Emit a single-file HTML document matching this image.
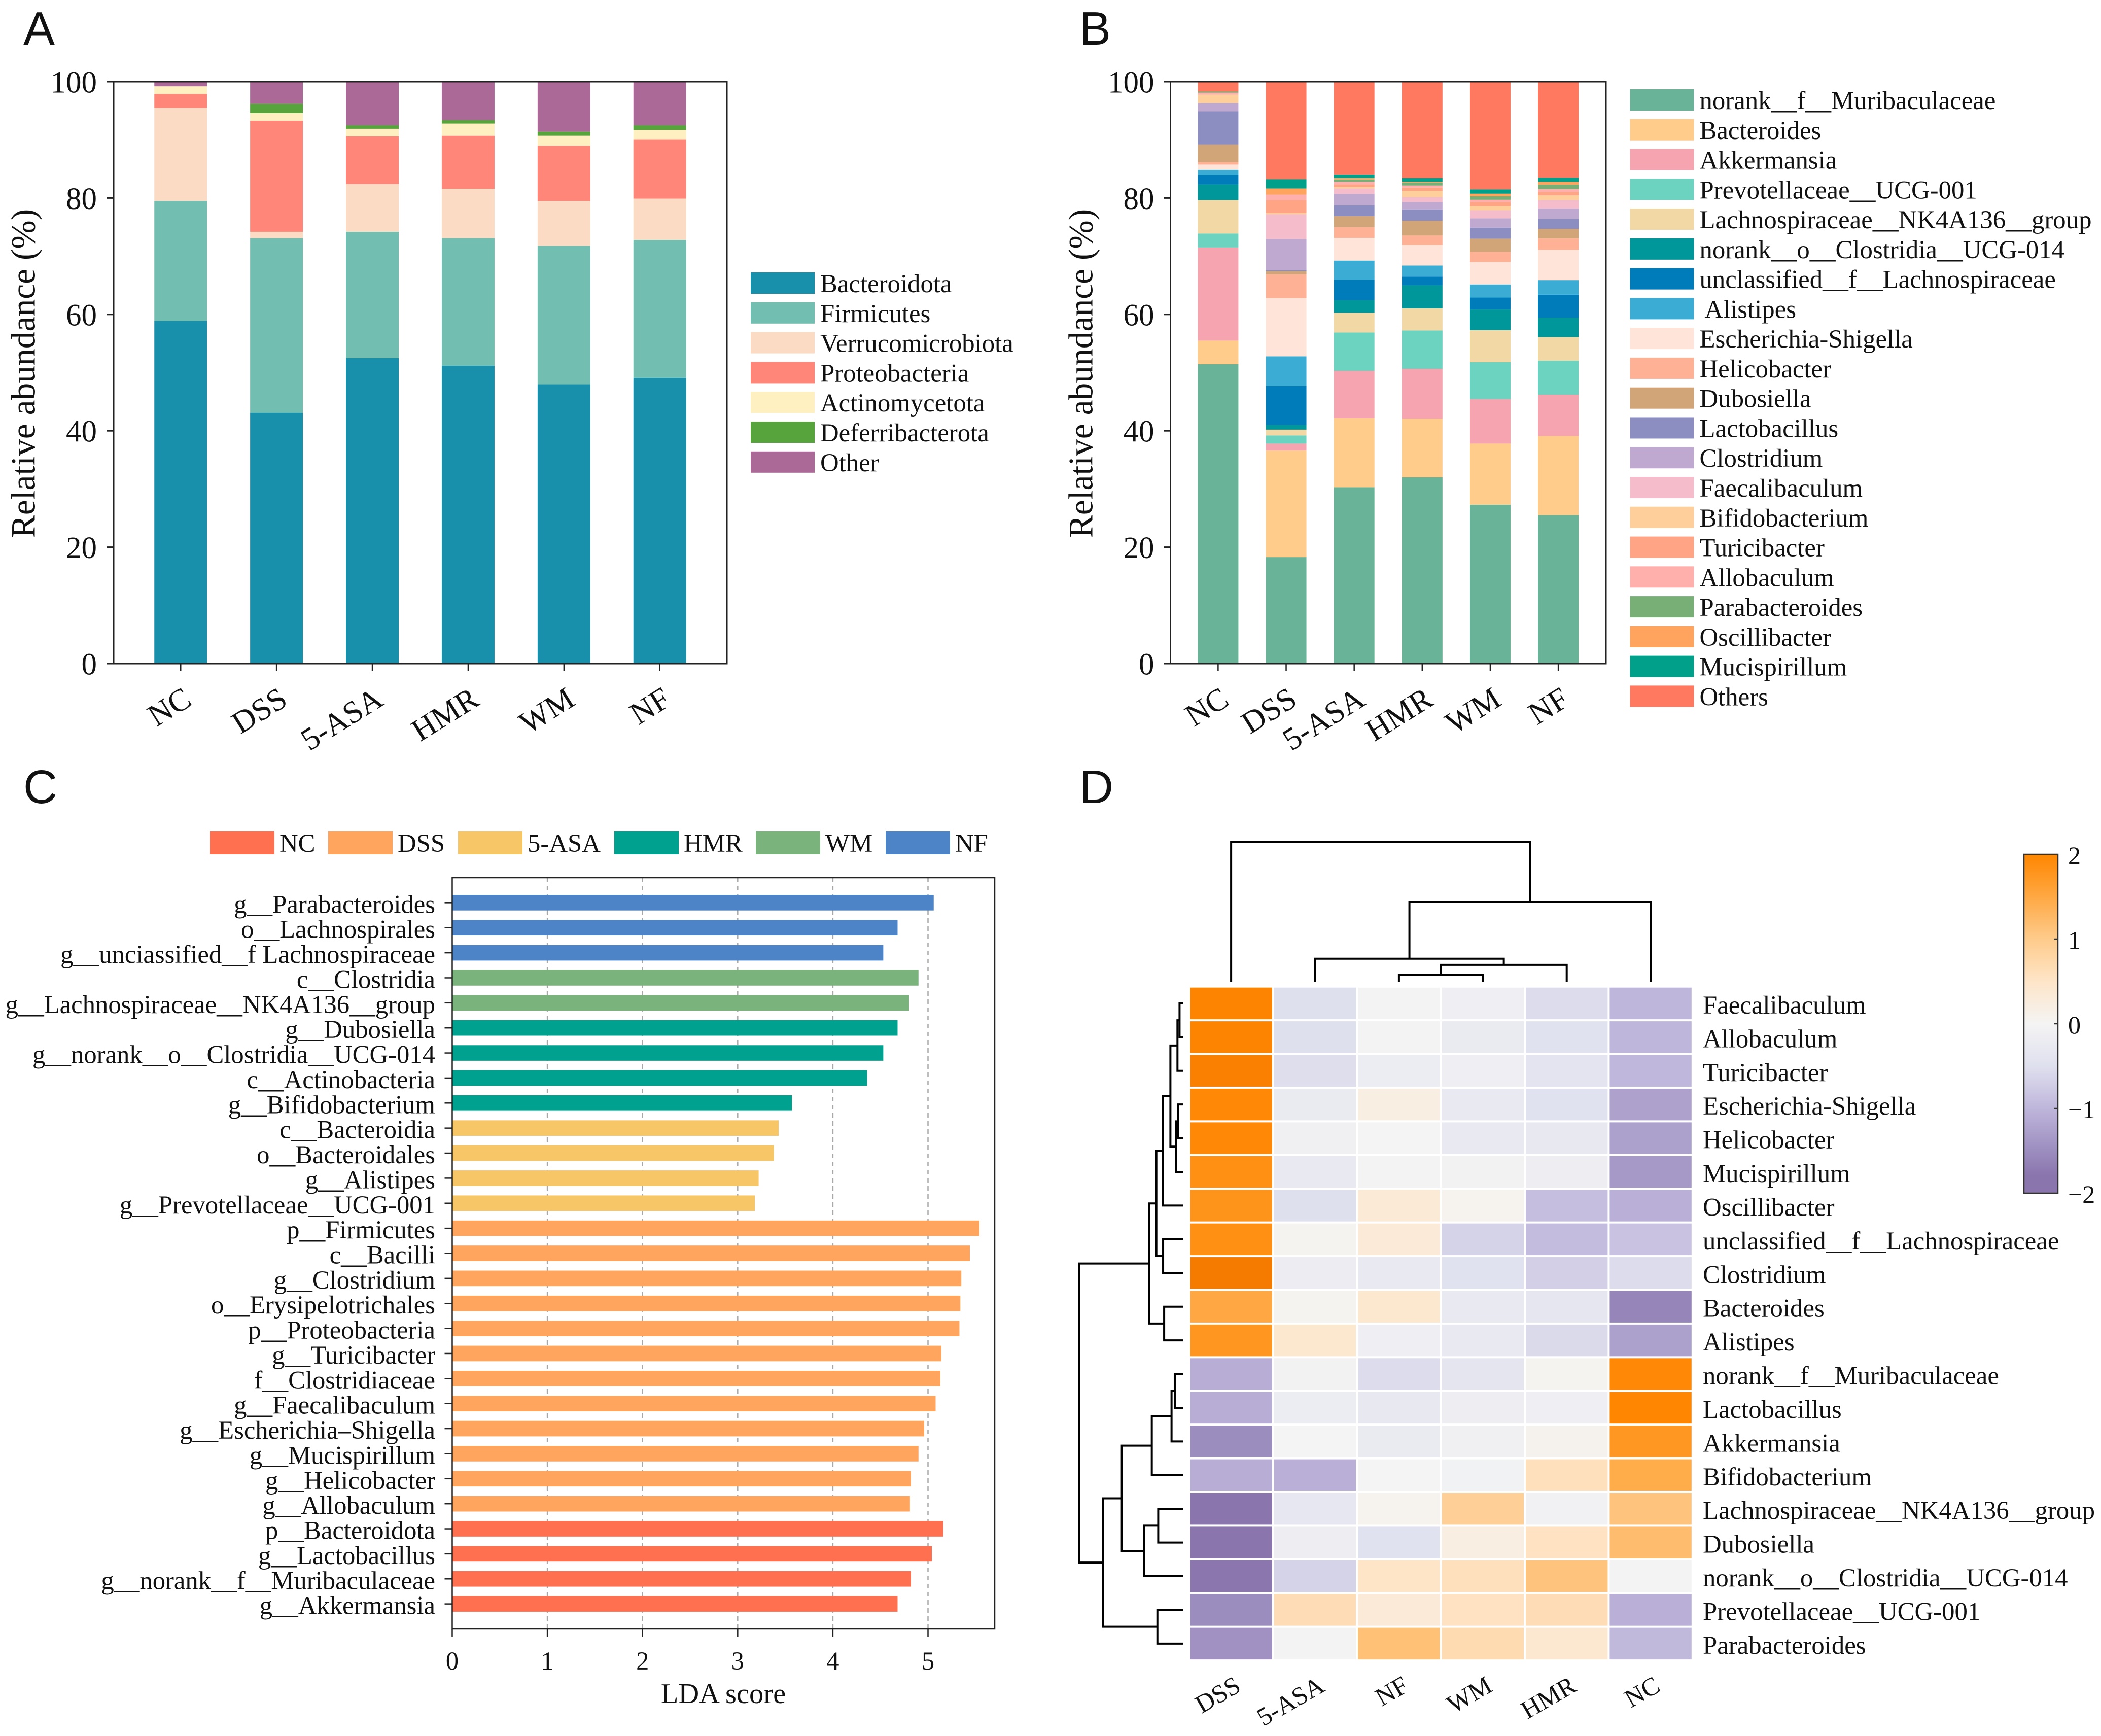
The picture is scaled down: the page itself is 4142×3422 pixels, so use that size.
<!DOCTYPE html>
<html lang="en">
<head>
<meta charset="utf-8">
<title>Gut microbiota composition, LDA and heatmap panels</title>
<style>
html,body{margin:0;padding:0;background:#fff;}
svg{display:block;}
text{font-family:"Liberation Serif","Times New Roman",serif;fill:#111;white-space:pre;}
.letter{font-family:"Liberation Sans",Arial,sans-serif;font-size:93px;fill:#111;}
</style>
</head>
<body>
<svg id="figure" xmlns="http://www.w3.org/2000/svg" width="4142" height="3422" viewBox="0 0 4142 3422">
  <rect x="0" y="0" width="4142" height="3422" fill="#ffffff"/>
  <defs>
    <linearGradient id="cbar-gradient" x1="0" y1="0" x2="0" y2="1"></linearGradient>
  </defs>
  <g id="panel-a">
    <text class="letter" x="46" y="88">A</text>
  </g>
  <g id="panel-b">
    <text class="letter" x="2128" y="88">B</text>
  </g>
  <g id="panel-c">
    <text class="letter" x="46" y="1583">C</text>
  </g>
  <g id="panel-d">
    <text class="letter" x="2128" y="1583">D</text>
  </g>
</svg>
<script>
/* ---------- shared categories ---------- */
const groups = ["NC", "DSS", "5-ASA", "HMR", "WM", "NF"];
const percentTicks = [0, 20, 40, 60, 80, 100];

/* ---------- panel A data: one array per phylum, in group order ---------- */
const phylumNames = ["Bacteroidota", "Firmicutes", "Verrucomicrobiota", "Proteobacteria", "Actinomycetota", "Deferribacterota", "Other"];
const bacteroidota = [58.9, 43.1, 52.5, 51.2, 48.0, 49.1];
const firmicutes = [20.6, 30.0, 21.7, 21.9, 23.8, 23.7];
const verrucomicrobiota = [16.0, 1.1, 8.2, 8.5, 7.7, 7.1];
const proteobacteria = [2.4, 19.1, 8.2, 9.1, 9.5, 10.2];
const actinomycetota = [1.3, 1.3, 1.3, 2.1, 1.7, 1.6];
const deferribacterota = [0, 1.6, 0.6, 0.6, 0.7, 0.8];
const otherPhyla = [0.8, 3.8, 7.5, 6.6, 8.6, 7.5];
const phylumSeries = [bacteroidota, firmicutes, verrucomicrobiota, proteobacteria, actinomycetota, deferribacterota, otherPhyla];
const phylumColors = ["#188FAB", "#72BFB1", "#FBDBC4", "#FF8679", "#FEF0C1", "#57A33C", "#AB6997"];

/* ---------- panel B data: one array per genus, in group order ---------- */
const genusNames = ["norank__f__Muribaculaceae", "Bacteroides", "Akkermansia", "Prevotellaceae__UCG-001", "Lachnospiraceae__NK4A136__group", "norank__o__Clostridia__UCG-014", "unclassified__f__Lachnospiraceae", " Alistipes", "Escherichia-Shigella", "Helicobacter", "Dubosiella", "Lactobacillus", "Clostridium", "Faecalibaculum", "Bifidobacterium", "Turicibacter", "Allobaculum", "Parabacteroides", "Oscillibacter", "Mucispirillum", "Others"];
const muribaculaceae = [51.45, 18.3, 30.3, 32.0, 27.3, 25.5];
const bacteroides = [4.05, 18.3, 11.9, 10.1, 10.5, 13.6];
const akkermansia = [16.0, 1.2, 8.1, 8.55, 7.65, 7.1];
const prevotellaceae = [2.4, 1.4, 6.6, 6.6, 6.35, 5.85];
const lachnoNK = [5.75, 1.0, 3.4, 3.8, 5.5, 4.05];
const norankClostridia = [2.7, 0.8, 2.15, 3.95, 3.55, 3.35];
const unclassifiedLachno = [1.65, 6.7, 3.5, 1.5, 2.05, 3.95];
const alistipes = [0.85, 5.1, 3.3, 1.9, 2.25, 2.5];
const escherichia = [0.9, 10.0, 3.9, 3.55, 3.85, 5.2];
const helicobacter = [0.45, 4.1, 1.85, 1.6, 1.75, 1.95];
const dubosiella = [3.0, 0.55, 1.9, 2.55, 2.25, 1.65];
const lactobacillus = [5.7, 0.15, 1.85, 1.95, 1.9, 1.7];
const clostridium = [1.4, 5.35, 1.95, 1.25, 1.6, 1.8];
const faecalibaculum = [0, 4.25, 0.95, 0.85, 1.4, 1.45];
const bifidobacterium = [1.45, 0.2, 0.25, 1.1, 0.7, 0.8];
const turicibacter = [0, 2.25, 0.45, 0.55, 0.7, 0.6];
const allobaculum = [0.35, 0.95, 0.45, 0.35, 0.4, 0.5];
const parabacteroides = [0.2, 0, 0.4, 0.5, 0.6, 0.75];
const oscillibacter = [0, 1.05, 0.25, 0.15, 0.45, 0.5];
const mucispirillum = [0, 1.6, 0.6, 0.65, 0.75, 0.7];
const otherGenera = [1.7, 16.75, 15.95, 16.55, 18.5, 16.5];
const genusSeries = [muribaculaceae, bacteroides, akkermansia, prevotellaceae, lachnoNK, norankClostridia, unclassifiedLachno, alistipes, escherichia, helicobacter, dubosiella, lactobacillus, clostridium, faecalibaculum, bifidobacterium, turicibacter, allobaculum, parabacteroides, oscillibacter, mucispirillum, otherGenera];
const genusColors = ["#69B398", "#FFCC8C", "#F6A5B0", "#6CD3C1", "#F1D8A4", "#00979B", "#007CBB", "#3BADD4", "#FFE5D9", "#FFB195", "#D2A579", "#8C8EC2", "#BFA9D1", "#F5BCCB", "#FECF9B", "#FFA585", "#FFB0AD", "#77AF77", "#FFA45F", "#00A08A", "#FF7961"];

/* ---------- panel C data ---------- */
const ldaLabels = ["g__Parabacteroides", "o__Lachnospirales", "g__unciassified__f Lachnospiraceae", "c__Clostridia", "g__Lachnospiraceae__NK4A136__group", "g__Dubosiella", "g__norank__o__Clostridia__UCG-014", "c__Actinobacteria", "g__Bifidobacterium", "c__Bacteroidia", "o__Bacteroidales", "g__Alistipes", "g__Prevotellaceae__UCG-001", "p__Firmicutes", "c__Bacilli", "g__Clostridium", "o__Erysipelotrichales", "p__Proteobacteria", "g__Turicibacter", "f__Clostridiaceae", "g__Faecalibaculum", "g__Escherichia–Shigella", "g__Mucispirillum", "g__Helicobacter", "g__Allobaculum", "p__Bacteroidota", "g__Lactobacillus", "g__norank__f__Muribaculaceae", "g__Akkermansia"];
const ldaScores = [5.06, 4.68, 4.53, 4.90, 4.80, 4.68, 4.53, 4.36, 3.57, 3.43, 3.38, 3.22, 3.18, 5.54, 5.44, 5.35, 5.34, 5.33, 5.14, 5.13, 5.08, 4.96, 4.90, 4.82, 4.81, 5.16, 5.04, 4.82, 4.68];
const ldaGroups = ["NF", "NF", "NF", "WM", "WM", "HMR", "HMR", "HMR", "HMR", "5-ASA", "5-ASA", "5-ASA", "5-ASA", "DSS", "DSS", "DSS", "DSS", "DSS", "DSS", "DSS", "DSS", "DSS", "DSS", "DSS", "DSS", "NC", "NC", "NC", "NC"];
const ldaTicks = [0, 1, 2, 3, 4, 5];
const ldaGroupColors = {"NC": "#FF7050", "DSS": "#FFA55E", "5-ASA": "#F6C667", "HMR": "#00A18E", "WM": "#7AB37B", "NF": "#4C84C7"};

/* ---------- panel D data: one array per clustered column, top row first ---------- */
const heatRows = ["Faecalibaculum", "Allobaculum", "Turicibacter", "Escherichia-Shigella", "Helicobacter", "Mucispirillum", "Oscillibacter", "unclassified__f__Lachnospiraceae", "Clostridium", "Bacteroides", "Alistipes", "norank__f__Muribaculaceae", "Lactobacillus", "Akkermansia", "Bifidobacterium", "Lachnospiraceae__NK4A136__group", "Dubosiella", "norank__o__Clostridia__UCG-014", "Prevotellaceae__UCG-001", "Parabacteroides"];
const heatCols = ["DSS", "5-ASA", "NF", "WM", "HMR", "NC"];
const heatDSS = [2.03, 2.03, 2.08, 1.95, 1.95, 1.85, 1.8, 1.85, 2.15, 1.5, 1.77, -1.1, -1.1, -1.5, -1.1, -1.85, -1.85, -1.78, -1.5, -1.45];
const heat5ASA = [-0.5, -0.5, -0.52, -0.25, -0.1, -0.28, -0.5, 0.05, -0.2, 0.05, 0.42, -0.05, -0.18, -0.01, -1.07, -0.33, -0.15, -0.65, 0.65, -0.03];
const heatNF = [-0.02, -0.02, -0.18, 0.2, 0, -0.02, 0.35, 0.33, -0.28, 0.42, -0.12, -0.55, -0.3, -0.25, -0.01, 0.08, -0.45, 0.5, 0.33, 1.15];
const heatWM = [-0.12, -0.25, -0.12, -0.28, -0.28, -0.05, 0.08, -0.65, -0.45, -0.28, -0.28, -0.38, -0.15, -0.1, -0.06, 0.9, 0.2, 0.6, 0.55, 0.7];
const heatHMR = [-0.55, -0.45, -0.4, -0.45, -0.3, -0.15, -0.9, -0.93, -0.7, -0.35, -0.57, 0.05, -0.12, 0.07, 0.6, -0.07, 0.55, 1.1, 0.65, 0.4];
const heatNC = [-1.0, -1.0, -0.98, -1.25, -1.27, -1.35, -1.07, -0.85, -0.55, -1.6, -1.27, 1.95, 2.0, 1.75, 1.45, 1.1, 1.2, -0.03, -1.07, -0.97];
const heatColumns = [heatDSS, heat5ASA, heatNF, heatWM, heatHMR, heatNC];
const colorbarTicks = [2, 1, 0, -1, -2];
const colorStopValues = [-2, -1.8, -1.5, -1, -0.5, 0, 0.5, 1, 1.5, 2, 2.15];
const colorStopColors = ["#8A75AD", "#8A75AD", "#9C8DBF", "#BFB6DB", "#DFE0EE", "#F4F4F4", "#FEE5C8", "#FECB8B", "#FFA843", "#FF8600", "#F47B00"];

/* dendrogram merges: [childA, childB, height]; node ids above the leaf count are earlier merges */
const columnMerges = [[2, 3, 4.9], [6, 4, 12], [1, 7, 16.4], [8, 5, 56.9], [0, 9, 100]];
const rowMerges = [[0, 1, 3.7], [20, 2, 5.7], [3, 4, 4.9], [22, 5, 7.3], [21, 23, 12.5], [24, 6, 20], [7, 8, 19.5], [25, 26, 26], [9, 10, 18.5], [27, 28, 33], [11, 12, 8.3], [30, 13, 11.4], [31, 14, 30.4], [15, 16, 24.2], [33, 17, 38], [32, 34, 59.2], [18, 19, 25], [35, 36, 77.2], [29, 37, 100]];

/* ---------- helpers ---------- */
const NS = "http://www.w3.org/2000/svg";
function make(parent, tag, attrs, text) {
  const node = document.createElementNS(NS, tag);
  for (const key in attrs) node.setAttribute(key, attrs[key]);
  if (text !== undefined) node.textContent = text;
  parent.appendChild(node);
  return node;
}
function slug(s) {
  return String(s).trim().toLowerCase().replace(/[^a-z0-9]+/g, "-").replace(/^-|-$/g, "");
}
const AXIS = "#222222";

/* ---------- stacked bar panels (A, B) ---------- */
function stackedPanel(root, opt) {
  const yPos = v => opt.bottom - (v / 100) * (opt.bottom - opt.top);
  const step = (opt.right - opt.left) / (groups.length - 1 + 2 * opt.pad);
  const xPos = i => opt.left + (opt.pad + i) * step;
  const base = groups.map(() => 0);
  opt.series.forEach((values, s) => {
    values.forEach((v, g) => {
      if (v <= 0) return;
      const y1 = yPos(base[g]);
      const y2 = yPos(base[g] + v);
      const el = make(root, "rect", {x: xPos(g) - opt.barW / 2, y: y2, width: opt.barW, height: y1 - y2, fill: opt.colors[s]});
      
      
      base[g] += v;
    });
  });
  const frame = make(root, "rect", {x: opt.left, y: opt.top, width: opt.right - opt.left, height: opt.bottom - opt.top, fill: "none", stroke: AXIS, "stroke-width": 3});
  
  
  percentTicks.forEach(t => {
    const tick = make(root, "line", {x1: opt.left - 13, x2: opt.left, y1: yPos(t), y2: yPos(t), stroke: AXIS, "stroke-width": 3});
    
    
    const lab = make(root, "text", {x: opt.left - opt.tickGap, y: yPos(t) + 2, "text-anchor": "end", "dominant-baseline": "central", "font-size": 61}, String(t));
    
    
  });
  groups.forEach((g, i) => {
    const tick = make(root, "line", {x1: xPos(i), x2: xPos(i), y1: opt.bottom, y2: opt.bottom + 14, stroke: AXIS, "stroke-width": 2.5});
    
    
    const ax = xPos(i) + 25;
    const ay = 1388;
    const lab = make(root, "text", {x: ax, y: ay, "text-anchor": "end", "font-size": 62, transform: "rotate(-32 " + ax + " " + ay + ")"}, g);
    
    
  });
  const ylx = opt.ylabelX;
  const yl = make(root, "text", {x: ylx, y: 736, "text-anchor": "middle", "dominant-baseline": "central", "font-size": 67.5, transform: "rotate(-90 " + ylx + " 736)"}, "Relative abundance (%)");
  
  
  opt.names.forEach((name, s) => {
    const cy = opt.legendY + s * opt.legendStep;
    const sw = make(root, "rect", {x: opt.legendX, y: cy - 21, width: 126, height: 42, fill: opt.colors[s]});
    
    
    const tx = make(root, "text", {x: opt.legendX + 137, y: cy + 1, "dominant-baseline": "central", "font-size": 50.8}, name);
    
    
  });
}
stackedPanel(document.getElementById("panel-a"), {
  left: 224, right: 1433, top: 161, bottom: 1308, pad: 0.7, barW: 104, tickGap: 33, ylabelX: 46,
  series: phylumSeries, colors: phylumColors, names: phylumNames,
  legendX: 1480, legendY: 558, legendStep: 58.8
});
stackedPanel(document.getElementById("panel-b"), {
  left: 2307.5, right: 3166, top: 161, bottom: 1308, pad: 0.7, barW: 80, tickGap: 32, ylabelX: 2131,
  series: genusSeries, colors: genusColors, names: genusNames,
  legendX: 3213.5, legendY: 197, legendStep: 58.77
});

/* ---------- panel C: LDA bars ---------- */
(function () {
  const root = document.getElementById("panel-c");
  const left = 891.5, right = 1961, top = 1730, bottom = 3211, perUnit = 187.6;
  const xPos = v => left + v * perUnit;
  const yStep = (bottom - top) / (ldaLabels.length + 1);
  const yPos = i => top + (i + 1) * yStep;
  ldaTicks.slice(1).forEach(t => {
    const grid = make(root, "line", {x1: xPos(t), x2: xPos(t), y1: top, y2: bottom, stroke: "#a8a8a8", "stroke-width": 2.5, "stroke-dasharray": "9 7"});
    
    
  });
  ldaScores.forEach((score, i) => {
    const bar = make(root, "rect", {x: left, y: yPos(i) - 15.3, width: xPos(score) - left, height: 30.6, fill: ldaGroupColors[ldaGroups[i]]});
    
    
    const tick = make(root, "line", {x1: left - 15, x2: left, y1: yPos(i), y2: yPos(i), stroke: AXIS, "stroke-width": 2.5});
    
    
    const lab = make(root, "text", {x: 858, y: yPos(i) + 3, "text-anchor": "end", "dominant-baseline": "central", "font-size": 50.7}, ldaLabels[i]);
    
    
  });
  const frame = make(root, "rect", {x: left, y: top, width: right - left, height: bottom - top, fill: "none", stroke: AXIS, "stroke-width": 2.5});
  
  
  ldaTicks.forEach(t => {
    const tick = make(root, "line", {x1: xPos(t), x2: xPos(t), y1: bottom, y2: bottom + 15, stroke: AXIS, "stroke-width": 2.5});
    
    
    const lab = make(root, "text", {x: xPos(t), y: 3274, "text-anchor": "middle", "dominant-baseline": "central", "font-size": 50.5}, String(t));
    
    
  });
  const title = make(root, "text", {x: 1426, y: 3339, "text-anchor": "middle", "dominant-baseline": "central", "font-size": 56.5}, "LDA score");
  
  
  const swatchStarts = {"NC": 414, "DSS": 647, "5-ASA": 903, "HMR": 1211, "WM": 1490, "NF": 1746};
  groups.forEach(g => {
    const sw = make(root, "rect", {x: swatchStarts[g], y: 1639, width: 127, height: 45, fill: ldaGroupColors[g]});
    
    
    const tx = make(root, "text", {x: swatchStarts[g] + 137, y: 1662, "dominant-baseline": "central", "font-size": 50.8}, g);
    
    
  });
})();

/* ---------- panel D: clustered heatmap ---------- */
(function () {
  const root = document.getElementById("panel-d");
  const hLeft = 2346.4, hTop = 1946.7, colStep = 165.4, rowStep = 66.42, gap = 4;
  const xPos = c => hLeft + c * colStep;
  const yPos = r => hTop + r * rowStep;
  const hexToRgb = h => [1, 3, 5].map(i => parseInt(h.slice(i, i + 2), 16));
  function colorOf(v) {
    const vs = colorStopValues, cs = colorStopColors;
    if (v <= vs[0]) return cs[0];
    for (let i = 1; i < vs.length; i++) {
      if (v <= vs[i]) {
        const f = (v - vs[i - 1]) / (vs[i] - vs[i - 1]);
        const a = hexToRgb(cs[i - 1]), b = hexToRgb(cs[i]);
        return "rgb(" + a.map((x, k) => Math.round(x + (b[k] - x) * f)).join(",") + ")";
      }
    }
    return cs[cs.length - 1];
  }
  heatColumns.forEach((col, c) => {
    col.forEach((v, r) => {
      const cell = make(root, "rect", {x: xPos(c), y: yPos(r), width: colStep - gap, height: rowStep - gap, fill: colorOf(v)});
      
      
    });
  });
  heatRows.forEach((name, r) => {
    const lab = make(root, "text", {x: 3357, y: yPos(r) + rowStep / 2 + 1, "dominant-baseline": "central", "font-size": 50.8}, name);
    
    
  });
  heatCols.forEach((name, c) => {
    const ax = xPos(c) + colStep / 2 + 20;
    const ay = 3332;
    const lab = make(root, "text", {x: ax, y: ay, "text-anchor": "end", "font-size": 50.5, transform: "rotate(-30 " + ax + " " + ay + ")"}, name);
    
    
  });

  /* dendrograms */
  function dendrogram(merges, leafCount, leafPos, heightPos, name) {
    const at = [];
    for (let i = 0; i < leafCount; i++) at[i] = {p: leafPos(i), h: 0};
    merges.forEach((m, k) => {
      const a = at[m[0]], b = at[m[1]], h = m[2];
      const d = heightPos(a.p, a.h) + " " + heightPos(a.p, h) + " " + heightPos(b.p, h) + " " + heightPos(b.p, b.h);
      const link = make(root, "polyline", {points: d, fill: "none", stroke: "#000000", "stroke-width": 4});
      
      
      at[leafCount + k] = {p: (a.p + b.p) / 2, h: h};
    });
  }
  dendrogram(columnMerges, heatCols.length, c => xPos(c) + (colStep - gap) / 2,
    (p, h) => p + "," + (1935 - h * 2.76), 'column-dendrogram-link');
  dendrogram(rowMerges, heatRows.length, r => yPos(r) + (rowStep - gap) / 2,
    (p, h) => (2333 - h * 2.05) + "," + p, 'row-dendrogram-link');

  /* colorbar */
  const cTop = 1684, cBottom = 2352, cLeft = 3990, cRight = 4057;
  const cY = v => cTop + (2 - v) / 4 * (cBottom - cTop);
  const grad = document.getElementById("cbar-gradient");
  colorStopValues.filter(v => v <= 2).slice().reverse().forEach(v => {
    const stop = make(grad, "stop", {offset: (2 - v) / 4, "stop-color": colorOf(v)});
    
    
  });
  const bar = make(root, "rect", {x: cLeft, y: cTop, width: cRight - cLeft, height: cBottom - cTop, fill: "url(#cbar-gradient)", stroke: "#333333", "stroke-width": 2.5});
  
  
  colorbarTicks.forEach(t => {
    if (Math.abs(t) < 2) {
      const tick = make(root, "line", {x1: cRight - 8, x2: cRight, y1: cY(t), y2: cY(t), stroke: "#333333", "stroke-width": 2.5});
      
      
    }
    const lab = make(root, "text", {x: 4077, y: cY(t) + 2, "dominant-baseline": "central", "font-size": 50}, t < 0 ? "\u2212" + Math.abs(t) : String(t));
    
    
  });
})();
</script>
</body>
</html>
